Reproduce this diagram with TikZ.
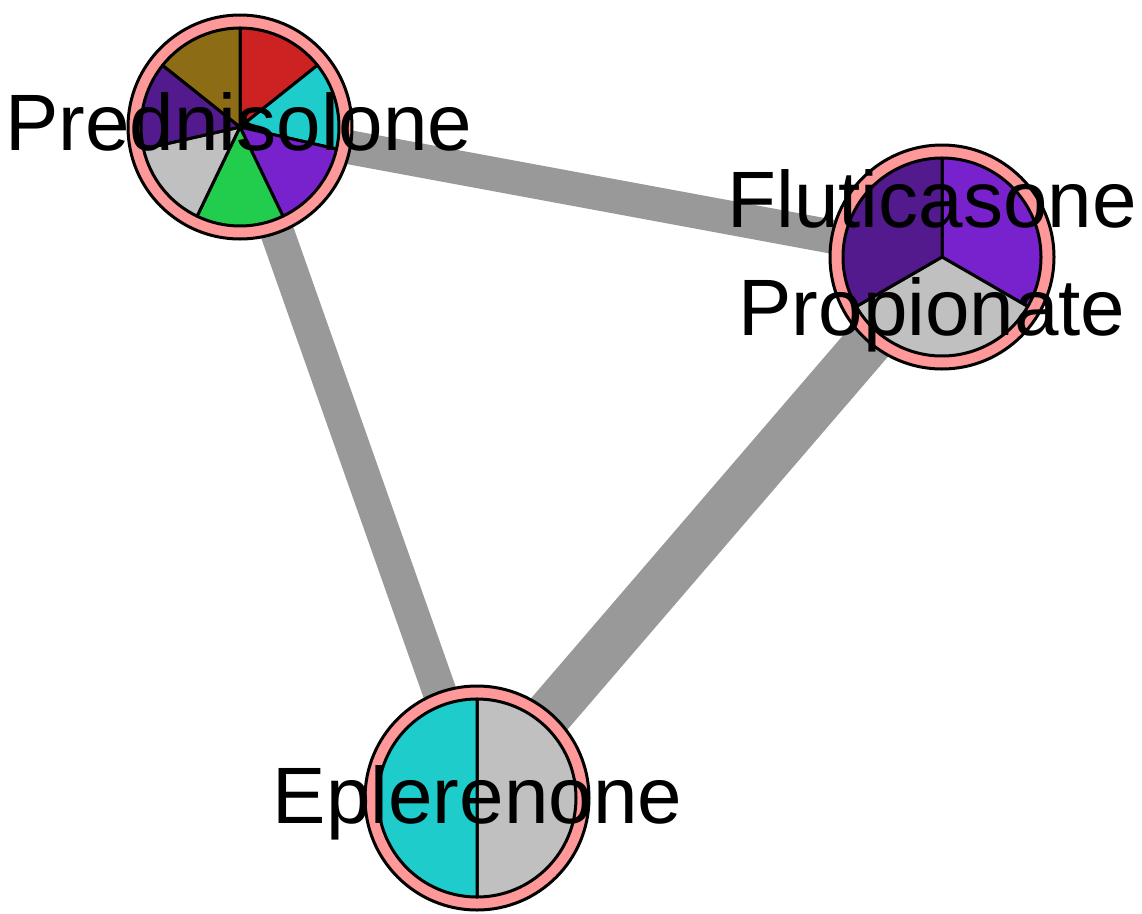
\documentclass[tikz,border=0pt]{standalone}
\usepackage{fontspec}
\setmainfont{Liberation Sans}
\usetikzlibrary{backgrounds}
\definecolor{cred}{RGB}{204,34,34}
\definecolor{ccyan}{RGB}{31,204,204}
\definecolor{cpurple}{RGB}{119,34,204}
\definecolor{cgreen}{RGB}{34,204,76}
\definecolor{cgray}{RGB}{192,192,192}
\definecolor{cdpurple}{RGB}{82,26,140}
\definecolor{colive}{RGB}{140,108,20}
\definecolor{cpink}{RGB}{255,153,153}
\definecolor{cedge}{RGB}{153,153,153}
\tikzset{
  drugnode/.style={circle, draw=black, line width=3pt, fill=cpink, minimum size=224pt, inner sep=0pt},
  slicestyle/.style={draw=black, line width=3pt, line join=round},
  edgeline/.style={draw=cedge, line cap=butt},
  lbl/.style={font=\fontsize{80}{108}\selectfont, inner sep=0pt, align=center, anchor=base}
}
\newcommand{\pieslice}[4]{\filldraw[slicestyle, fill=#4] (#1.center) -- ++(#2:99pt) arc[start angle=#2, end angle=#3, radius=99pt] -- cycle;}
\begin{document}
\begin{tikzpicture}[x=1pt,y=1pt]
\useasboundingbox (0,0) rectangle (1142,-913);
% nodes
\node[drugnode] (P) at (240,-127) {};
\node[drugnode] (F) at (942,-257) {};
\node[drugnode] (E) at (477,-798) {};
% edges
\begin{scope}[on background layer]
\draw[edgeline, line width=34pt] (P.center) -- (F.center);
\draw[edgeline, line width=34pt] (P.center) -- (E.center);
\draw[edgeline, line width=48pt] (F.center) -- (E.center);
\end{scope}
% Prednisolone pie: 7 slices clockwise from 90
\foreach \c [count=\i from 0] in {cred,ccyan,cpurple,cgreen,cgray,cdpurple,colive} {
  \pgfmathsetmacro{\sa}{90-\i*360/7}
  \pgfmathsetmacro{\ea}{90-(\i+1)*360/7}
  \pieslice{P}{\sa}{\ea}{\c}
}
% Fluticasone pie
\pieslice{F}{90}{-30}{cpurple}
\pieslice{F}{-30}{-150}{cgray}
\pieslice{F}{-150}{-270}{cdpurple}
% Eplerenone pie
\pieslice{E}{90}{-90}{cgray}
\pieslice{E}{-90}{-270}{ccyan}
% labels
\node[lbl] (Pl) at (239,-150) {Prednisolone};
\node[lbl] (Fl) at (932,-335) {Fluticasone\\Propionate};
\node[lbl] (El) at (477.5,-823) {Eplerenone};
\end{tikzpicture}
\end{document}
